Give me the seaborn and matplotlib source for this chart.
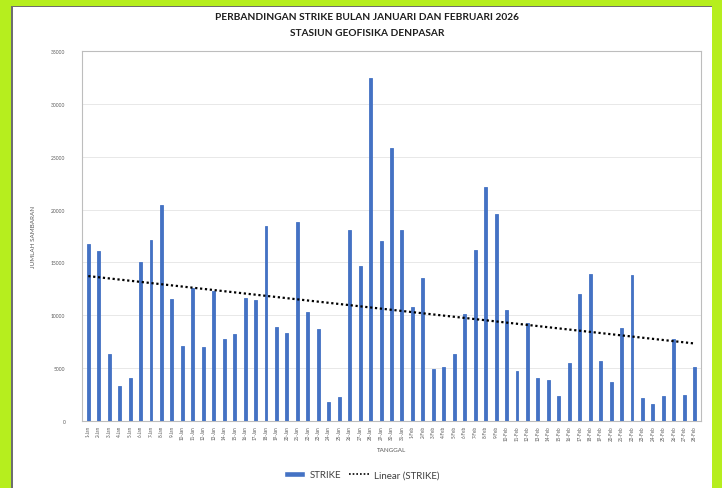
import numpy as np
import pandas as pd
import matplotlib
matplotlib.use("Agg")
import matplotlib.pyplot as plt
import seaborn as sns
from matplotlib.patches import Rectangle, Patch
from matplotlib.lines import Line2D

# data
jan_days = [f"{d}-Jan" for d in range(1, 32)]
feb_days = [f"{d}-Feb" for d in range(1, 29)]
tanggal = jan_days + feb_days

strike_jan = [16700, 16100, 6300, 3300, 4100, 15000, 17100, 20400, 11500, 7100,
              12600, 7000, 12300, 7800, 8200, 11600, 11400, 18400, 8900, 8300,
              18800, 10300, 8700, 1800, 2300, 18100, 14700, 32400, 17000, 25800,
              18100]
strike_feb = [10800, 13500, 4900, 5100, 6300, 10100, 16200, 22100, 19600, 10500,
              4700, 9300, 4100, 3900, 2400, 5500, 12000, 13900, 5700, 3700,
              8800, 13800, 2200, 1600, 2400, 7800, 2500, 5100]
strike = strike_jan + strike_feb

df = pd.DataFrame({"tanggal": tanggal, "strike": strike})

BAR = "#4472C4"
LIME = "#B6EE1E"

sns.set_theme(style="white")
plt.rcParams["font.family"] = ["Lato", "DejaVu Sans"]

fig = plt.figure(figsize=(7.22, 4.89), dpi=100)
fig.patch.set_facecolor(LIME)
# white card with a thin shadow on the left
fig.patches.append(Rectangle((11 / 722, 0), 701 / 722, 482 / 489, transform=fig.transFigure,
                             facecolor="#6E6E6E", edgecolor="none", zorder=-2))
fig.patches.append(Rectangle((13 / 722, 0), 699 / 722, 481 / 489, transform=fig.transFigure,
                             facecolor="white", edgecolor="none", zorder=-1))

ax = fig.add_axes([82 / 722, 1 - 422 / 489, 619 / 722, 370 / 489])
sns.barplot(data=df, x="tanggal", y="strike", order=tanggal, color=BAR,
            width=0.28, saturation=1, edgecolor=BAR, linewidth=0.6, ax=ax, zorder=3)

# linear trend (least squares, like the Excel trendline)
xs = np.arange(len(strike))
k, b = np.polyfit(xs, strike, 1)
ax.plot(xs, k * xs + b, color="black", ls=(0, (1, 1.2)), lw=1.6, zorder=4)

ax.set_ylim(0, 35000)
ax.set_yticks(range(0, 35001, 5000))
ax.set_xlim(-0.6, len(strike) - 0.4)
ax.yaxis.grid(True, color="#E4E4E4", lw=0.6, zorder=0)
for s in ax.spines.values():
    s.set_color("#BDBDBD")
    s.set_linewidth(0.8)
ax.tick_params(axis="y", labelsize=3.6, colors="#595959", length=0, pad=12)
ax.tick_params(axis="x", labelsize=3.3, colors="#595959", length=2, width=0.5,
               rotation=90, pad=1)
ax.set_xlabel("TANGGAL", fontsize=4.5, color="#595959", labelpad=5)
ax.set_ylabel("JUMLAH SAMBARAN", fontsize=4.5, color="#595959", labelpad=11)

fig.text(0.508, 1 - 18 / 489, "PERBANDINGAN STRIKE BULAN JANUARI DAN FEBRUARI 2026",
         ha="center", va="center", fontsize=7.3, fontweight="bold", color="#1E1E1E")
fig.text(0.508, 1 - 34 / 489, "STASIUN GEOFISIKA DENPASAR",
         ha="center", va="center", fontsize=7.3, fontweight="bold", color="#1E1E1E")

handles = [Patch(facecolor=BAR, label="STRIKE"),
           Line2D([], [], color="black", ls=(0, (1, 1.2)), lw=1.2, label="Linear (STRIKE)")]
fig.legend(handles=handles, loc="center", bbox_to_anchor=(0.501, 1 - 476 / 489), ncol=2,
           frameon=False, fontsize=7, handlelength=2.2, handleheight=0.5,
           columnspacing=0.8, handletextpad=0.4, labelcolor="#404040")

fig.savefig("out.png", dpi=100, facecolor=fig.get_facecolor())
